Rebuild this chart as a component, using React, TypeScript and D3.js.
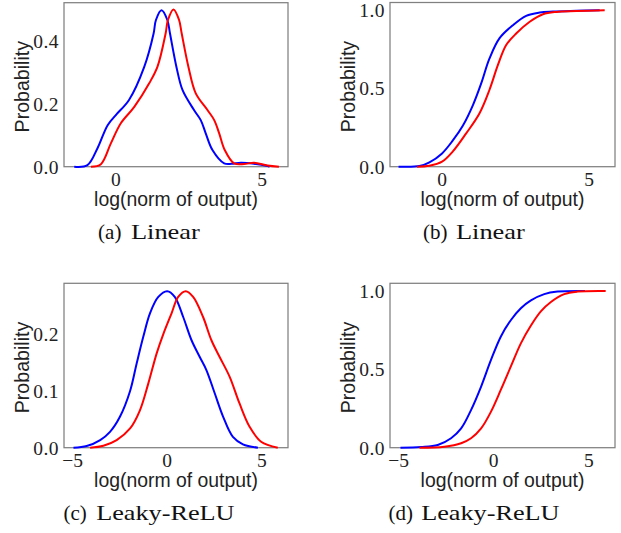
import React from 'react';
import * as d3 from 'd3';

// ---------- data ----------
// Panel (a): Linear, density
const pdfLinearBlue: [number, number][] = [
  [-1.42, 0], [-0.97, 0.005], [-0.63, 0.058], [-0.28, 0.132], [0, 0.164], [0.45, 0.212],
  [0.97, 0.317], [1.29, 0.423], [1.37, 0.466], [1.56, 0.497], [1.76, 0.466], [1.85, 0.423],
  [2.07, 0.317], [2.28, 0.243], [2.67, 0.18], [2.9, 0.148], [3.07, 0.106], [3.3, 0.053],
  [3.7, 0.0106], [3.95, 0.009], [4.27, 0.0127], [4.72, 0.0095], [5.18, 0.002], [5.25, 0],
];
const pdfLinearRed: [number, number][] = [
  [-0.85, 0], [-0.51, 0.008], [-0.17, 0.074], [0.17, 0.138], [0.63, 0.19], [1.14, 0.265],
  [1.42, 0.317], [1.7, 0.423], [1.78, 0.466], [1.97, 0.4996], [2.16, 0.466], [2.25, 0.423],
  [2.48, 0.317], [2.73, 0.233], [3.13, 0.18], [3.36, 0.148], [3.53, 0.106], [3.72, 0.053],
  [4.04, 0.0106], [4.38, 0.0085], [4.72, 0.0127], [5.18, 0.004], [5.57, 0],
];
// Panel (b): Linear, cumulative
const cdfLinearBlue: [number, number][] = [
  [-1.48, 0], [-0.77, 0.004], [-0.43, 0.028], [0, 0.085], [0.36, 0.166], [0.7, 0.26],
  [1.05, 0.394], [1.33, 0.532], [1.61, 0.69], [1.95, 0.82], [2.41, 0.904], [2.86, 0.964],
  [3.32, 0.985], [3.77, 0.991], [4.57, 0.996], [5.36, 1.0],
];
const cdfLinearRed: [number, number][] = [
  [-0.85, 0], [-0.43, 0.006], [0, 0.032], [0.36, 0.096], [0.82, 0.213], [1.27, 0.34],
  [1.61, 0.49], [1.9, 0.65], [2.18, 0.777], [2.52, 0.851], [2.98, 0.926], [3.43, 0.974],
  [3.89, 0.989], [4.57, 0.994], [5.53, 1.0],
];
// Panel (c): Leaky-ReLU, density
const pdfLeakyBlue: [number, number][] = [
  [-4.95, 0], [-4.25, 0.003], [-3.54, 0.0135], [-3.02, 0.028], [-2.49, 0.055], [-1.96, 0.1],
  [-1.61, 0.149], [-1.26, 0.196], [-0.91, 0.237], [-0.47, 0.266], [0, 0.276], [0.4, 0.266],
  [0.84, 0.231], [1.28, 0.19], [1.72, 0.16], [2.07, 0.137], [2.51, 0.096], [2.95, 0.055],
  [3.47, 0.019], [4.0, 0.006], [4.79, 0],
];
const pdfLeakyRed: [number, number][] = [
  [-4.07, 0], [-3.37, 0.0035], [-2.67, 0.0135], [-1.96, 0.034], [-1.44, 0.066], [-1.0, 0.113],
  [-0.56, 0.166], [-0.21, 0.2], [0.23, 0.237], [0.58, 0.266], [0.98, 0.276], [1.37, 0.266],
  [1.89, 0.231], [2.33, 0.19], [2.77, 0.16], [3.3, 0.125], [3.82, 0.078], [4.35, 0.037],
  [4.96, 0.0106], [5.84, 0],
];
// Panel (d): Leaky-ReLU, cumulative
const cdfLeakyBlue: [number, number][] = [
  [-4.9, 0], [-3.81, 0.004], [-2.94, 0.017], [-2.24, 0.06], [-1.71, 0.123], [-1.19, 0.24],
  [-0.66, 0.39], [-0.14, 0.56], [0.38, 0.71], [0.91, 0.815], [1.43, 0.89], [1.96, 0.94],
  [2.66, 0.98], [3.36, 0.996], [4.8, 1.0],
];
const cdfLeakyRed: [number, number][] = [
  [-3.9, 0], [-2.59, 0.006], [-1.71, 0.028], [-1.19, 0.06], [-0.66, 0.123], [-0.14, 0.23],
  [0.38, 0.37], [0.91, 0.52], [1.43, 0.666], [1.96, 0.78], [2.48, 0.87], [3.01, 0.93],
  [3.71, 0.98], [4.41, 0.996], [5.89, 1.0],
];

const xTicksLinear = [0, 5];
const xTicksLeaky = [-5, 0, 5];
const yTicksPdfLinear = [0, 0.2, 0.4];
const yTicksPdfLeaky = [0, 0.1, 0.2];
const yTicksCdf = [0, 0.5, 1.0];

const xLabel = 'log(norm of output)';
const yLabel = 'Probability';
const captionLabels = ['(a)', '(b)', '(c)', '(d)'];
const captionNames = ['Linear', 'Linear', 'Leaky-ReLU', 'Leaky-ReLU'];

// ---------- layout ----------
const W = 621;
const H = 533;
const SERIF = '"Liberation Serif", "Times New Roman", serif';
const SANS = '"Liberation Sans", Arial, sans-serif';
const BLUE = '#0000ff';
const RED = '#ff0000';

type Panel = {
  box: { l: number; t: number; r: number; b: number };
  xDomain: [number, number];
  yDomain: [number, number];
  xTicks: number[];
  yTicks: number[];
  blue: [number, number][];
  red: [number, number][];
  label: string;
  name: string;
  capCx: number;
  nameLen: number;
};

const panels: Panel[] = [
  { box: { l: 64, t: 2.7, r: 288, b: 166.7 }, xDomain: [-1.77, 5.88], yDomain: [0, 0.521],
    xTicks: xTicksLinear, yTicks: yTicksPdfLinear, blue: pdfLinearBlue, red: pdfLinearRed,
    label: captionLabels[0], name: captionNames[0], capCx: 149, nameLen: 69 },
  { box: { l: 390, t: 2.5, r: 615, b: 166.7 }, xDomain: [-1.77, 5.88], yDomain: [0, 1.049],
    xTicks: xTicksLinear, yTicks: yTicksCdf, blue: cdfLinearBlue, red: cdfLinearRed,
    label: captionLabels[1], name: captionNames[1], capCx: 474, nameLen: 69 },
  { box: { l: 64, t: 283.3, r: 288, b: 447.7 }, xDomain: [-5.45, 6.38], yDomain: [0, 0.29],
    xTicks: xTicksLeaky, yTicks: yTicksPdfLeaky, blue: pdfLeakyBlue, red: pdfLeakyRed,
    label: captionLabels[2], name: captionNames[2], capCx: 149, nameLen: 138.4 },
  { box: { l: 390, t: 283.3, r: 615, b: 447.7 }, xDomain: [-5.45, 6.38], yDomain: [0, 1.049],
    xTicks: xTicksLeaky, yTicks: yTicksCdf, blue: cdfLeakyBlue, red: cdfLeakyRed,
    label: captionLabels[3], name: captionNames[3], capCx: 474, nameLen: 138.4 },
];

const fmtY = d3.format('.1f');
const fmtX = d3.format('d');

function PanelView({ p }: { p: Panel }) {
  const { l, t, r, b } = p.box;
  const x = d3.scaleLinear().domain(p.xDomain).range([l, r]);
  const y = d3.scaleLinear().domain(p.yDomain).range([b, t]);
  const line = d3
    .line<[number, number]>()
    .x((d) => x(d[0]))
    .y((d) => Math.min(b, y(d[1])))
    .curve(d3.curveCatmullRom.alpha(0.5));
  const capW = 20 + 12.8 + p.nameLen;
  const capStart = p.capCx - capW / 2;
  const capBase = b + 71.8;
  return (
    <g>
      <rect x={l} y={t} width={r - l} height={b - t} fill="white" stroke="#808080" strokeWidth={1.25} />
      <path d={line(p.blue) || ''} fill="none" stroke={BLUE} strokeWidth={2} />
      <path d={line(p.red) || ''} fill="none" stroke={RED} strokeWidth={2} />
      {p.yTicks.map((v) => (
        <text key={'y' + v} x={l - 5} y={y(v) + 6.8} textAnchor="end" fontFamily={SERIF} fontSize={19.5} letterSpacing={0.5} fill="#222">
          {fmtY(v)}
        </text>
      ))}
      {p.xTicks.map((v) => (
        <text key={'x' + v} x={x(v)} y={b + 18.8} textAnchor="middle" fontFamily={SERIF} fontSize={19.5} fill="#222">
          {fmtX(v)}
        </text>
      ))}
      <text x={(l + r) / 2} y={b + 38.8} textAnchor="middle" fontFamily={SANS} fontSize={19.4} fill="#222">
        {xLabel}
      </text>
      <text
        transform={`translate(${l - 35},${(t + b) / 2 + 2}) rotate(-90)`}
        textAnchor="middle"
        fontFamily={SANS}
        fontSize={19.6}
        fill="#222"
      >
        {yLabel}
      </text>
      <text x={capStart} y={capBase} fontFamily={SERIF} fontSize={21} fill="#111">
        {p.label}
      </text>
      <text x={capStart + 32.8} y={capBase} fontFamily={SERIF} fontSize={21} fill="#111" textLength={p.nameLen} lengthAdjust="spacingAndGlyphs">
        {p.name}
      </text>
    </g>
  );
}

export default function App() {
  return (
    <svg width={W} height={H} viewBox={`0 0 ${W} ${H}`} style={{ position: 'absolute', left: 0, top: 0, background: 'white' }}>
      <rect x={0} y={0} width={W} height={H} fill="white" />
      {panels.map((p, i) => (
        <PanelView key={i} p={p} />
      ))}
    </svg>
  );
}
